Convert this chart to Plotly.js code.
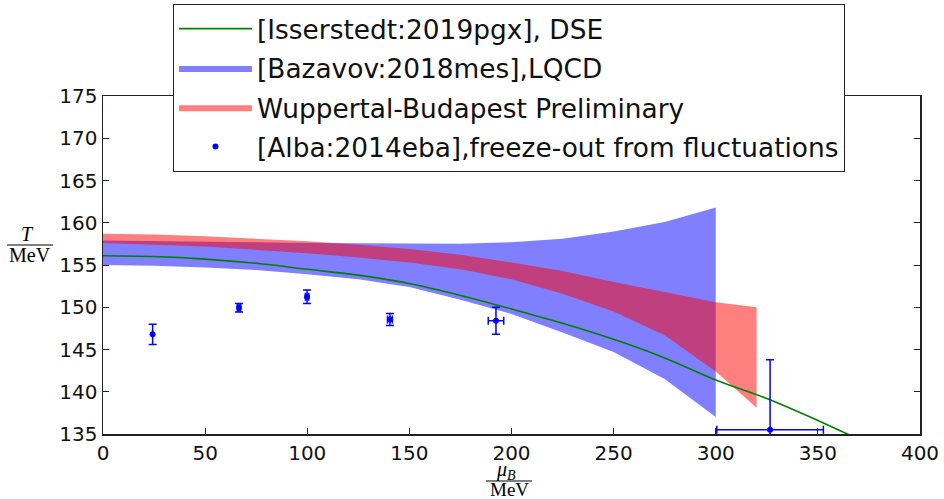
<!DOCTYPE html>
<html>
<head>
<meta charset="utf-8">
<script src="https://cdn.plot.ly/plotly-3.0.1.min.js"></script>
<style>body{margin:0;padding:0;background:#fff;}#chart{width:944px;height:499px;}</style>
</head>
<body>
<div id="chart"></div>
<script>
// DSE curve [Isserstedt:2019pgx]
const dseMu = [0, 25, 50, 75, 100, 125, 150, 175, 200, 225, 250, 275, 300, 325, 350, 375];
const dseT  = [156.1, 156.0, 155.7, 155.2, 154.5, 153.8, 152.8, 151.4, 149.8, 148.1, 146.2, 144.0, 141.4, 139.2, 136.6, 133.8];

// LQCD band [Bazavov:2018mes]
const lqcdMu    = [0, 25, 50, 75, 100, 125, 150, 175, 200, 225, 250, 275, 300];
const lqcdUpper = [157.9, 157.85, 157.8, 157.7, 157.6, 157.55, 157.5, 157.5, 157.7, 158.1, 158.95, 160.1, 161.8];
const lqcdLower = [155.0, 154.9, 154.7, 154.4, 153.9, 153.3, 152.4, 150.9, 149.2, 147.0, 144.7, 141.5, 137.0];

// Wuppertal-Budapest band
const wbMu    = [0, 25, 50, 75, 100, 125, 150, 175, 200, 225, 250, 275, 300, 320];
const wbUpper = [158.7, 158.6, 158.4, 158.1, 157.8, 157.4, 156.9, 156.2, 155.3, 154.3, 153.0, 151.8, 150.6, 150.0];
const wbLower = [157.6, 157.4, 157.2, 156.8, 156.4, 155.9, 155.3, 154.5, 153.3, 151.6, 149.5, 146.7, 142.4, 138.1];

// Freeze-out points [Alba:2014eba]
const foMu   = [24.3, 66.6, 99.9, 140.5, 192.4, 326.6];
const foT    = [146.8, 149.95, 151.25, 148.55, 148.4, 135.5];
const foMuErr = [0, 0.8, 0.8, 1.2, 3.8, 26.1];
const foTErr  = [1.2, 0.5, 0.8, 0.7, 1.6, 8.3];

const legendNames = [
  "[Isserstedt:2019pgx], DSE",
  "[Bazavov:2018mes],LQCD",
  "Wuppertal-Budapest Preliminary",
  "[Alba:2014eba],freeze-out from fluctuations"
];

function band(xs, up, lo) {
  return {
    x: xs.concat(xs.slice().reverse()),
    y: up.concat(lo.slice().reverse())
  };
}
const b1 = band(lqcdMu, lqcdUpper, lqcdLower);
const b2 = band(wbMu, wbUpper, wbLower);

const traces = [
  {x: b1.x, y: b1.y, type: 'scatter', mode: 'lines', fill: 'toself',
   fillcolor: 'rgba(0,0,255,0.5)', line: {width: 0, color: 'rgba(0,0,255,0.5)'},
   name: legendNames[1], legendrank: 2, legendgroup: 'g2', hoverinfo: 'skip'},
  {x: b2.x, y: b2.y, type: 'scatter', mode: 'lines', fill: 'toself',
   fillcolor: 'rgba(255,0,0,0.5)', line: {width: 0, color: 'rgba(255,0,0,0.5)'},
   name: legendNames[2], legendrank: 3, legendgroup: 'g3', hoverinfo: 'skip'},
  {x: dseMu, y: dseT, type: 'scatter', mode: 'lines',
   line: {color: 'green', width: 1.6, shape: 'spline'},
   name: legendNames[0], legendrank: 1, legendgroup: 'g1'},
  {x: foMu, y: foT, type: 'scatter', mode: 'markers',
   marker: {color: 'blue', size: 6},
   error_y: {type: 'data', array: foTErr, visible: true, color: 'blue', thickness: 1.5, width: 4},
   error_x: {type: 'data', array: foMuErr, visible: true, color: 'blue', thickness: 1.5, width: 4},
   name: legendNames[3], legendrank: 4, legendgroup: 'g4'}
];

const axisCommon = {
  showgrid: false, zeroline: false, showline: true, linecolor: '#222', linewidth: 1.5,
  mirror: 'ticks', ticks: 'inside', ticklen: 6, tickwidth: 1, tickcolor: '#222',
  tickfont: {family: 'DejaVu Sans', size: 20, color: '#111'}
};

const layout = {
  width: 944, height: 499,
  margin: {l: 103, r: 24, t: 96, b: 65, autoexpand: false},
  paper_bgcolor: '#fff', plot_bgcolor: '#fff',
  showlegend: true,
  xaxis: Object.assign({}, axisCommon, {range: [0, 400], tick0: 0, dtick: 50, automargin: false}),
  yaxis: Object.assign({}, axisCommon, {range: [135, 175], tick0: 135, dtick: 5, automargin: false}),
  legend: {
    x: 0.0857, y: (434 - 4) / 338, xanchor: 'left', yanchor: 'top',
    bgcolor: '#fff', bordercolor: '#222', borderwidth: 1,
    font: {family: 'DejaVu Sans', size: 26.4, color: '#111'},
    itemwidth: 73, traceorder: 'grouped', tracegroupgap: 2
  },
  shapes: [
    {type: 'line', xref: 'paper', yref: 'paper',
     x0: (7 - 103) / 817, x1: (53 - 103) / 817, y0: (434 - 245) / 338, y1: (434 - 245) / 338,
     line: {color: '#000', width: 1.2}},
    {type: 'line', xref: 'paper', yref: 'paper',
     x0: (486 - 103) / 817, x1: (532 - 103) / 817, y0: -(481 - 434) / 338, y1: -(481 - 434) / 338,
     line: {color: '#000', width: 1.2}}
  ],
  annotations: [
    {xref: 'paper', yref: 'paper', x: (27 - 103) / 817, y: (434 - 234) / 338,
     text: '<i>T</i>', showarrow: false, xanchor: 'center', yanchor: 'middle',
     font: {family: 'Liberation Serif', size: 20, color: '#000'}},
    {xref: 'paper', yref: 'paper', x: (30 - 103) / 817, y: (434 - 255) / 338,
     text: 'MeV', showarrow: false, xanchor: 'center', yanchor: 'middle',
     font: {family: 'Liberation Serif', size: 20, color: '#000'}},
    {xref: 'paper', yref: 'paper', x: (506 - 103) / 817, y: -(470 - 434) / 338,
     text: '<i>μ</i><sub><i>B</i></sub>', showarrow: false, xanchor: 'center', yanchor: 'middle',
     font: {family: 'Liberation Serif', size: 20, color: '#000'}},
    {xref: 'paper', yref: 'paper', x: (509 - 103) / 817, y: -(489 - 434) / 338,
     text: 'MeV', showarrow: false, xanchor: 'center', yanchor: 'middle',
     font: {family: 'Liberation Serif', size: 19, color: '#000'}}
  ]
};

Plotly.newPlot('chart', traces, layout, {displayModeBar: false, staticPlot: true});
</script>
</body>
</html>
